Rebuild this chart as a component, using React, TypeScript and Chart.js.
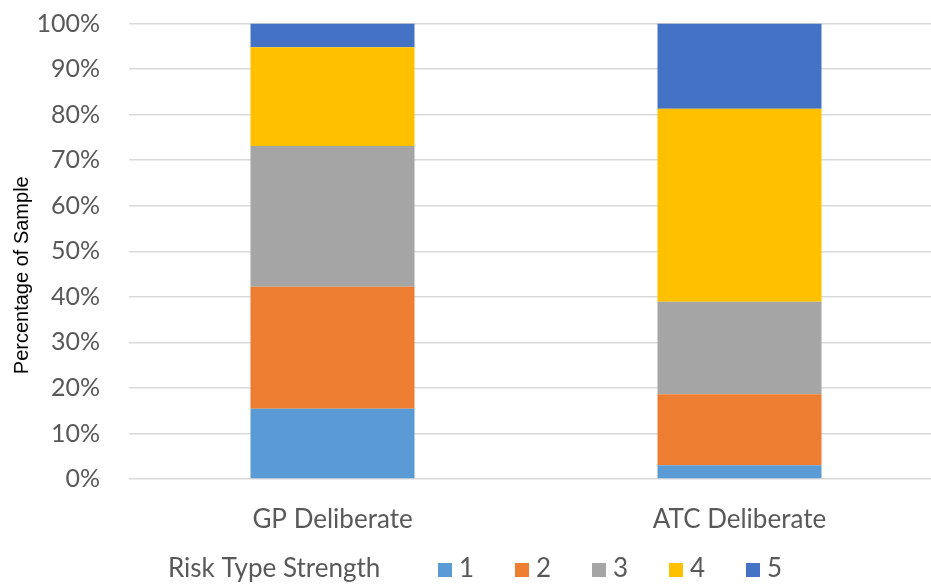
import React, { useEffect, useRef } from "react";
import { Chart, registerables } from "chart.js";

Chart.register(...registerables);

const categories = ["GP Deliberate", "ATC Deliberate"];
const seriesLabels = ["1", "2", "3", "4", "5"];
const seriesColors = ["#5B9BD5", "#ED7D31", "#A5A5A5", "#FFC000", "#4472C4"];
const strength1 = [15.4, 3.0];
const strength2 = [26.8, 15.6];
const strength3 = [30.9, 20.3];
const strength4 = [21.7, 42.4];
const strength5 = [5.2, 18.7];
const yTicks = [0, 10, 20, 30, 40, 50, 60, 70, 80, 90, 100];
const legendTitle = "Risk Type Strength";
const yAxisTitle = "Percentage of Sample";

const FONT = "Lato, 'Open Sans', sans-serif";
const TEXT = "#595959";

const extrasPlugin = {
  id: "extras",
  afterDraw(chart: any) {
    const ctx = chart.ctx;
    const area = chart.chartArea;
    ctx.save();
    // y axis title
    ctx.fillStyle = "#000000";
    ctx.font = "20px 'Liberation Sans', Arial, sans-serif";
    ctx.textAlign = "center";
    ctx.textBaseline = "middle";
    ctx.translate(22, (area.top + area.bottom) / 2 + 24);
    ctx.rotate(-Math.PI / 2);
    ctx.fillText(yAxisTitle, 0, 0);
    ctx.restore();

    // legend
    ctx.save();
    const y = 569;
    ctx.font = "26px " + FONT;
    ctx.fillStyle = TEXT;
    ctx.textAlign = "left";
    ctx.textBaseline = "middle";
    ctx.fillText(legendTitle, 168, y);
    const startX = 438;
    const step = 77;
    chart.data.datasets.forEach((ds: any, i: number) => {
      const x = startX + i * step;
      ctx.fillStyle = ds.backgroundColor;
      ctx.fillRect(x, y - 6, 14, 14);
      ctx.fillStyle = TEXT;
      ctx.fillText(ds.label, x + 21, y);
    });
    ctx.restore();
  },
};

export default function App() {
  const ref = useRef<HTMLCanvasElement>(null);

  useEffect(() => {
    if (!ref.current) return;
    const values = [strength1, strength2, strength3, strength4, strength5];
    const chart = new Chart(ref.current, {
      type: "bar",
      data: {
        labels: categories,
        datasets: seriesLabels.map((label, i) => ({
          label,
          data: values[i],
          backgroundColor: seriesColors[i],
          borderWidth: 0,
          categoryPercentage: 1,
          barPercentage: 0.403,
        })),
      },
      options: {
        responsive: false,
        animation: false,
        layout: { padding: { top: 23.5, bottom: 47, right: 2, left: 0 } },
        plugins: {
          legend: { display: false },
          tooltip: { enabled: false },
        },
        scales: {
          x: {
            stacked: true,
            grid: { display: false },
            border: { display: false },
            ticks: { color: TEXT, font: { family: FONT, size: 26 }, padding: 17 },
            afterFit: (s: any) => {
              s.height = 60;
            },
          },
          y: {
            stacked: true,
            min: 0,
            max: 100,
            afterBuildTicks: (s: any) => {
              s.ticks = yTicks.map((v) => ({ value: v }));
            },
            grid: {
              color: "#d9d9d9",
              lineWidth: 1.5,
              drawTicks: true,
              tickLength: 29,
              tickColor: "rgba(0,0,0,0)",
            },
            border: { display: false },
            ticks: {
              color: TEXT,
              font: { family: FONT, size: 25 },
              padding: 0,
              callback: (v: any) => v + "%",
            },
            afterFit: (s: any) => {
              s.width = 129;
            },
          },
        },
      },
      plugins: [extrasPlugin],
    });
    return () => chart.destroy();
  }, []);

  return (
    <div
      style={{
        position: "fixed",
        left: 0,
        top: 0,
        width: 931,
        height: 586,
        overflow: "hidden",
        background: "#ffffff",
      }}
    >
      <canvas ref={ref} width={945} height={586} style={{ display: "block" }} />
    </div>
  );
}
